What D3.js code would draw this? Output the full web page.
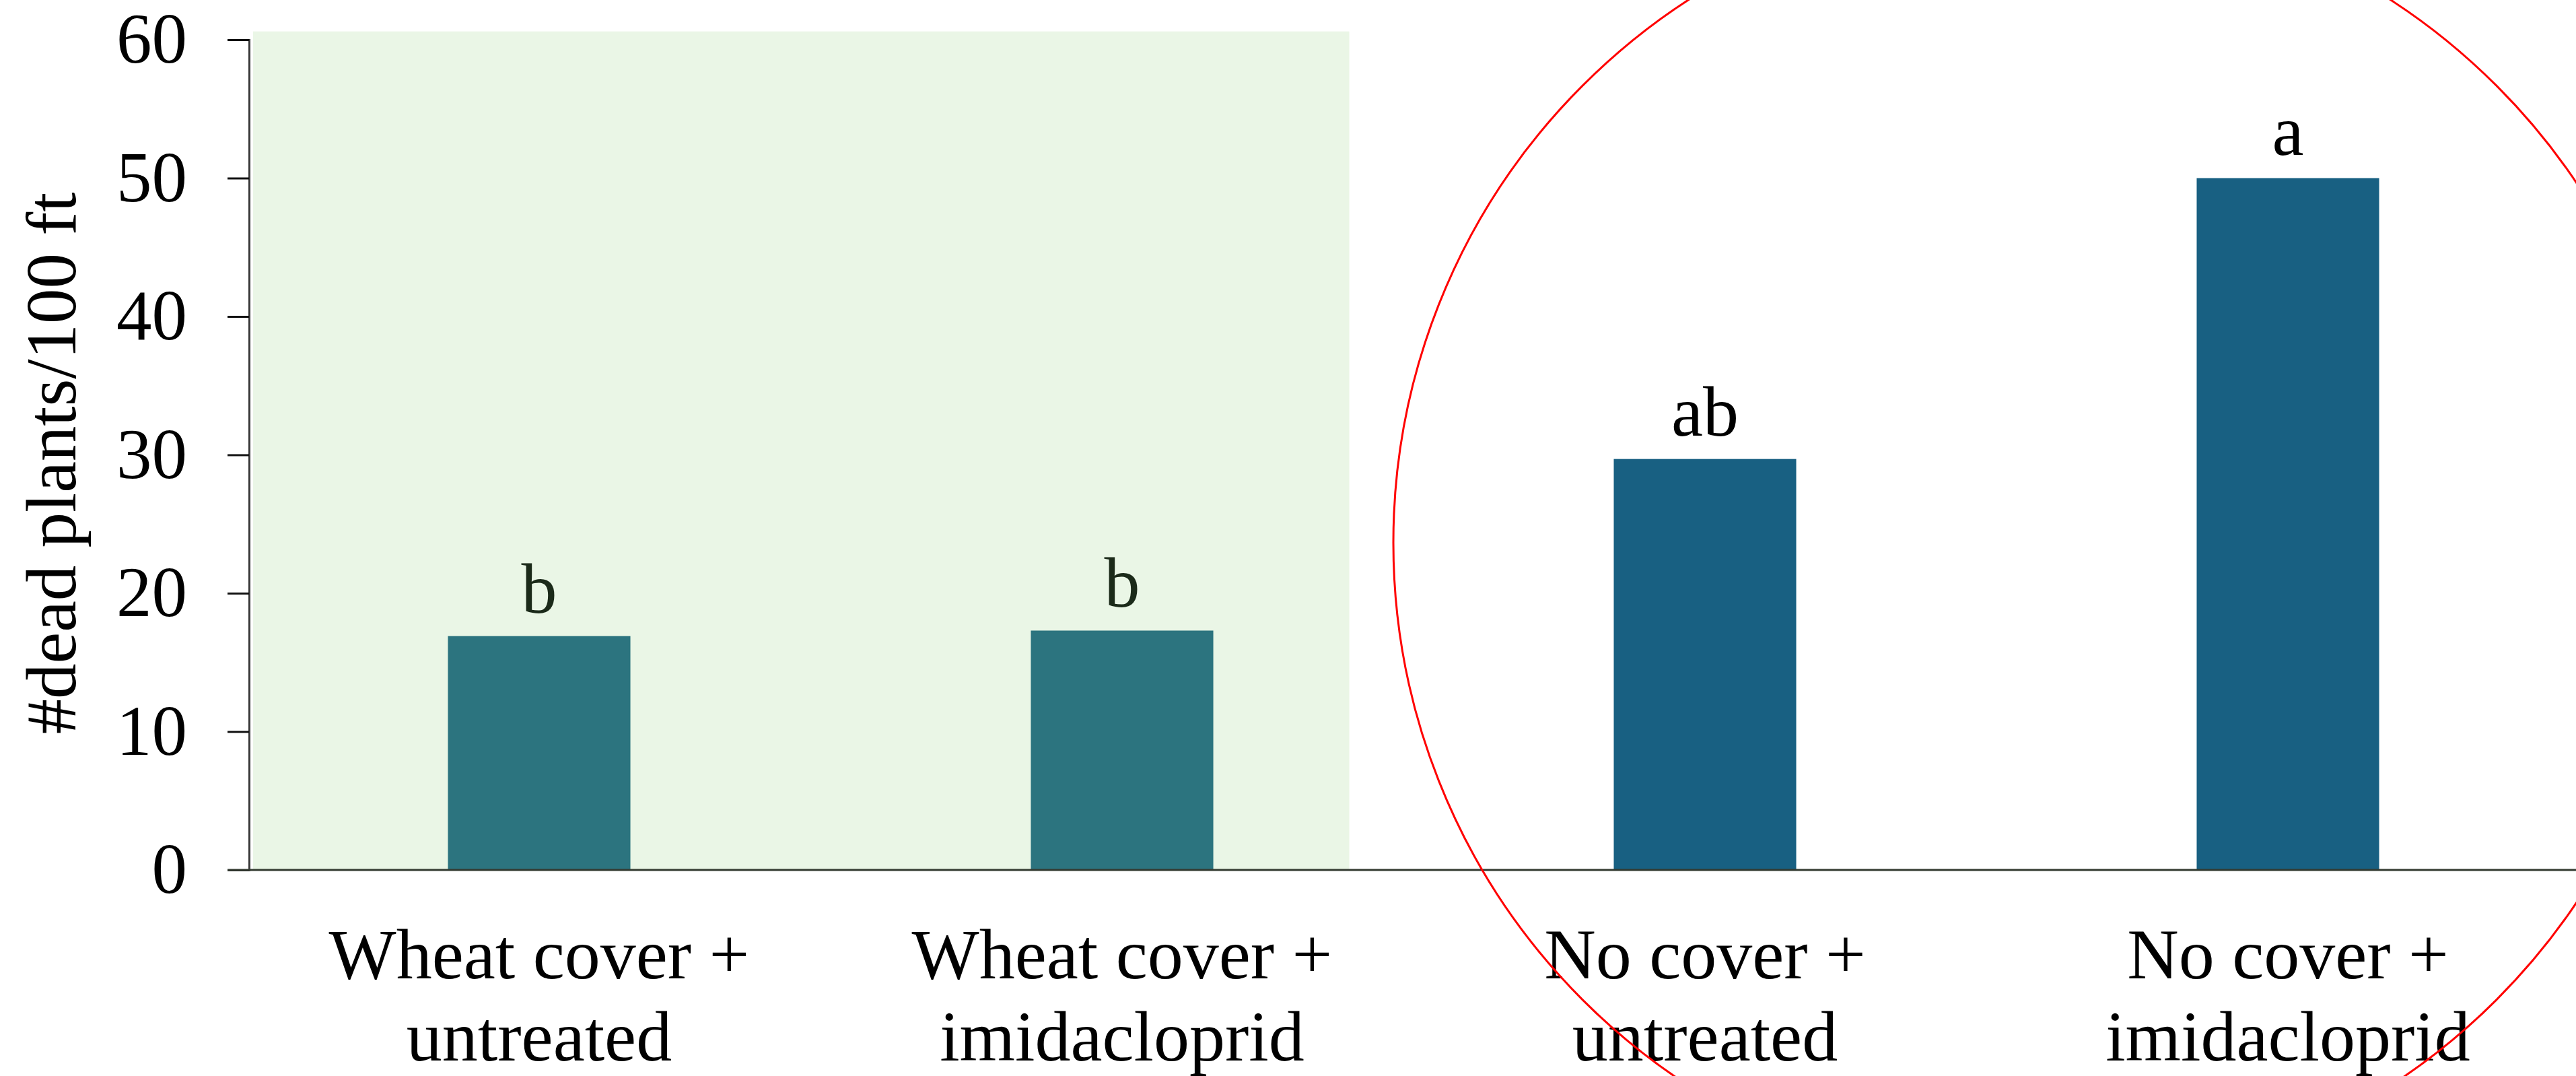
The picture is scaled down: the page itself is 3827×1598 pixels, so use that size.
<!DOCTYPE html>
<html lang="en">
<head>
    <meta charset="UTF-8">
    <title>Dead plants per 100 ft</title>
    <script src="https://cdn.jsdelivr.net/npm/d3@7"></script>
    <style>
        body { margin: 0; background: #fff; }
        svg { display: block; font-family: "Liberation Serif", "Times New Roman", serif; }
    </style>
</head>
<body>
<script>
    // chart values
    const categories = ['Wheat cover + untreated', 'Wheat cover + imidacloprid', 'No cover + untreated', 'No cover + imidacloprid']
    const labelLines = [['Wheat cover +', 'untreated'], ['Wheat cover +', 'imidacloprid'], ['No cover +', 'untreated'], ['No cover +', 'imidacloprid']]
    const values = [16.9, 17.3, 29.7, 50]
    const letters = ['b', 'b', 'ab', 'a']
    const yTicks = [0, 10, 20, 30, 40, 50, 60]
    const yTitle = '#dead plants/100 ft'

    const [width, height] = [3827, 1598]
    const barColors = ['#2c747f', '#2c747f', '#186082', '#186082']
    const letterColors = ['#1b2a19', '#1b2a19', '#000', '#000']

    const x = d3.scaleBand()
        .domain(categories)
        .range([368, 368 + 4 * 866])
        .paddingInner(0.687)
        .paddingOuter(0.3435)
    const y = d3.scaleLinear()
        .domain([0, 60])
        .range([1292, 59])

    const svg = d3.select('body').append('svg')
        .attr('width', width)
        .attr('height', height)

    // shaded block behind the wheat cover bars
    svg.append('rect')
        .attr('x', 376)
        .attr('y', y(60.6))
        .attr('width', x(categories[1]) + x.bandwidth() + 202 - 376)
        .attr('height', y(0) - y(60.6))
        .attr('fill', '#eaf6e6')

    // bars
    svg.selectAll('rect.bar').data(values).enter()
        .append('rect').attr('class', 'bar')
        .attr('x', (d, i) => x(categories[i]))
        .attr('y', d => y(d))
        .attr('width', x.bandwidth())
        .attr('height', d => y(0) - y(d))
        .attr('fill', (d, i) => barColors[i])

    // significance letters
    svg.selectAll('text.letter').data(values).enter()
        .append('text').attr('class', 'letter')
        .attr('x', (d, i) => x(categories[i]) + x.bandwidth() / 2)
        .attr('y', d => y(d) - 35)
        .attr('text-anchor', 'middle')
        .attr('font-size', 106)
        .attr('fill', (d, i) => letterColors[i])
        .text((d, i) => letters[i])

    // y axis
    const yAxis = svg.append('g')
        .attr('transform', 'translate(370,0)')
        .call(d3.axisLeft(y).tickValues(yTicks).tickSize(32).tickPadding(60))
    yAxis.select('.domain').attr('stroke', '#3a3a3a').attr('stroke-width', 3)
    yAxis.selectAll('.tick line').attr('stroke', '#111').attr('stroke-width', 3)
    yAxis.selectAll('.tick text')
        .attr('font-size', 105)
        .attr('font-family', '"Liberation Serif", "Times New Roman", serif')
        .attr('fill', '#000')

    // x axis line from the zero tick to the right edge
    svg.append('line')
        .attr('x1', 338).attr('x2', width)
        .attr('y1', y(0)).attr('y2', y(0))
        .attr('stroke', '#333a30')
        .attr('stroke-width', 3)

    // category labels, two lines each
    const cat = svg.selectAll('text.cat').data(labelLines).enter()
        .append('text').attr('class', 'cat')
        .attr('text-anchor', 'middle')
        .attr('font-size', 106)
        .attr('fill', '#000')
    cat.selectAll('tspan').data((d, i) => d.map(t => ({t, i}))).enter()
        .append('tspan')
        .attr('x', d => x(categories[d.i]) + x.bandwidth() / 2)
        .attr('y', (d, j) => 1453 + j * 122)
        .text(d => d.t)

    // y title
    svg.append('text')
        .attr('transform', 'translate(112,688) rotate(-90)')
        .attr('text-anchor', 'middle')
        .attr('font-size', 105)
        .attr('fill', '#000')
        .text(yTitle)

    // red circle annotation around the no cover bars
    svg.append('circle')
        .attr('cx', 3030)
        .attr('cy', 806)
        .attr('r', 960)
        .attr('fill', 'none')
        .attr('stroke', '#ff0000')
        .attr('stroke-width', 3)
</script>
</body>
</html>
